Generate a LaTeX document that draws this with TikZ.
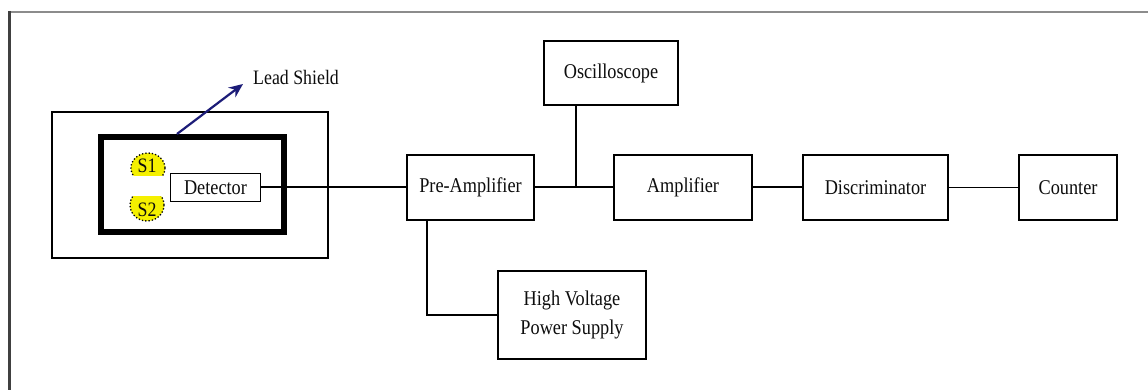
\documentclass[tikz,border=0pt]{standalone}
\usepackage{fontspec}
\setmainfont[FakeStretch=0.87]{Liberation Serif}
\usetikzlibrary{arrows.meta,calc}
\definecolor{navyarrow}{HTML}{1C1C78}
\definecolor{srcyellow}{HTML}{F5F000}
\begin{document}
\begin{tikzpicture}[x=1pt,y=-1pt,
  blk/.style={draw=black,line width=2pt,rectangle,inner sep=0pt,align=center,
    font=\fontsize{21}{29}\selectfont,text=black!95},
  conn/.style={draw=black,line width=2pt},
  lbl/.style={inner sep=0pt,font=\fontsize{20.5}{24}\selectfont,text=black!95}]
\useasboundingbox (0,0) rectangle (1148,390);
\fill[white] (0,0) rectangle (1148,390);
% page frame
\draw[black!45,line width=2pt] (8,12) -- (1148,12);
\draw[black!75,line width=3pt] (9,11) -- (9,390);
% lead shield boxes
\node[draw,line width=2pt,minimum width=276pt,minimum height=146pt,inner sep=0pt] (outerbox) at (190,185) {};
\node[draw,line width=6pt,minimum width=183pt,minimum height=95pt,inner sep=0pt] (innerbox) at (192.5,184.5) {};
% sources
\begin{scope}
\clip (120,140) rectangle (175,176);
\fill[srcyellow] (148,168) ellipse [x radius=17, y radius=15];
\draw[black,line width=1.3pt,dotted] (148,168) ellipse [x radius=17, y radius=15];
\end{scope}
\begin{scope}
\clip (120,197) rectangle (175,230);
\fill[srcyellow] (147,205) ellipse [x radius=17, y radius=16];
\draw[black,line width=1.3pt,dotted] (147,205) ellipse [x radius=17, y radius=16];
\end{scope}
\node[lbl] (s1) at (147,166) {S1};
\node[lbl] (s2) at (147,210) {S2};
% blocks
\node[blk,line width=1.6pt,minimum width=90pt,minimum height=28pt] (det) at (215.5,187.5) {Detector};
\node[blk,minimum width=127pt,minimum height=65pt] (pre) at (470.5,187.5) {Pre-Amplifier};
\node[blk,minimum width=134pt,minimum height=64pt] (osc) at (611,73) {Oscilloscope};
\node[blk,minimum width=138pt,minimum height=65pt] (amp) at (683,187.5) {Amplifier};
\node[blk,minimum width=145pt,minimum height=65pt] (disc) at (875.5,187.5) {Discriminator};
\node[blk,minimum width=98pt,minimum height=64pt] (cnt) at (1068,187.5) {Counter};
\node[blk,minimum width=148pt,minimum height=88pt] (hv) at (572,315) {High Voltage\\Power Supply};
% lead shield label
\coordinate (lsfoot) at (177,134);
\node[lbl,anchor=west] (lslabel) at (253,77) {Lead Shield};
\draw[navyarrow,line width=2.2pt,-{Stealth[length=14pt,width=12pt]}] (lsfoot) -- (243,84);
% connections
\draw[conn] (det.east) -- (pre.west);
\draw[conn] (pre.east) -- (amp.west);
\coordinate (jn) at (576,187.5);
\draw[conn] (jn) -- (jn |- osc.south);
\draw[conn] (amp.east) -- (disc.west);
\draw[conn,line width=1.6pt] (disc.east) -- (cnt.west);
\coordinate (hvtap) at (427,220);
\draw[conn] (hvtap) |- (hv.west);
\end{tikzpicture}
\end{document}
